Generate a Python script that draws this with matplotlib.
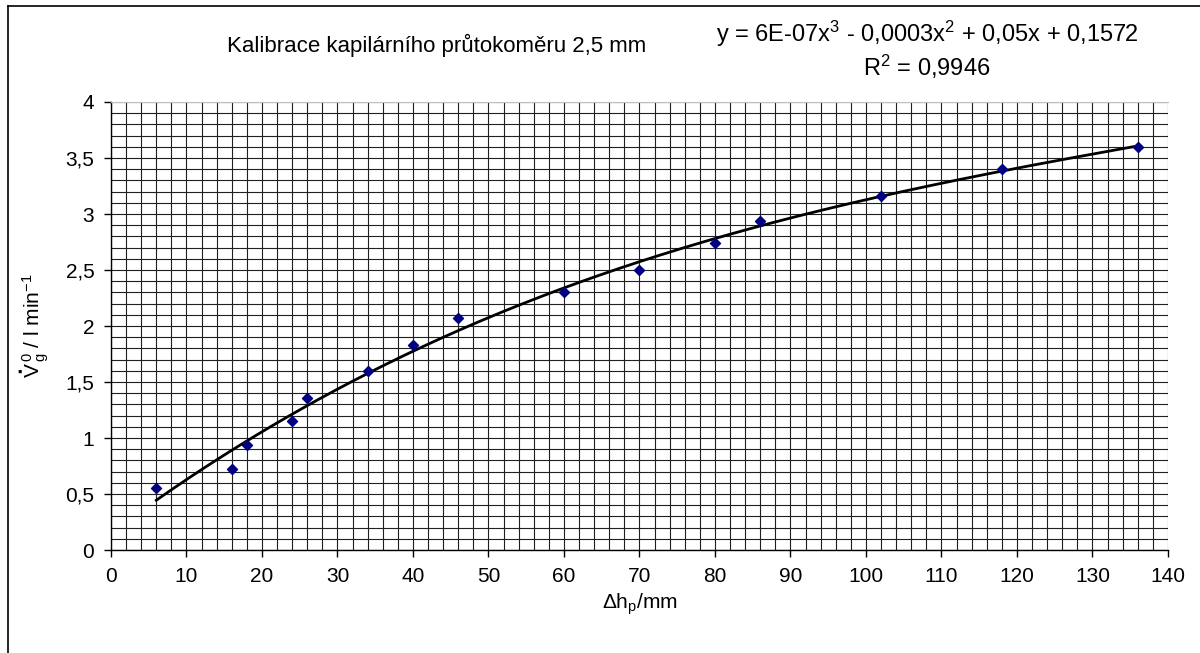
import numpy as np
import matplotlib
matplotlib.use('Agg')
import matplotlib.pyplot as plt
from matplotlib.ticker import MultipleLocator, FixedLocator, FixedFormatter
from matplotlib.lines import Line2D

plt.rcParams['font.family'] = ['Liberation Sans', 'DejaVu Sans']
plt.rcParams['mathtext.fontset'] = 'custom'
plt.rcParams['mathtext.rm'] = 'Liberation Sans'
plt.rcParams['mathtext.it'] = 'Liberation Sans'

# measured points
dh = [6, 16, 18, 24, 26, 34, 40, 46, 60, 70, 80, 86, 102, 118, 136]
flow = [0.55, 0.72, 0.94, 1.15, 1.36, 1.60, 1.83, 2.07, 2.30, 2.50, 2.74, 2.94, 3.16, 3.40, 3.60]

x_ticks = [0, 10, 20, 30, 40, 50, 60, 70, 80, 90, 100, 110, 120, 130, 140]
y_ticks = [0, 0.5, 1, 1.5, 2, 2.5, 3, 3.5, 4]
y_tick_labels = ['0', '0,5', '1', '1,5', '2', '2,5', '3', '3,5', '4']

title = 'Kalibrace kapilárního průtokoměru 2,5 mm'
eq_text = 'y = 6E-07x$^{3}$ - 0,0003x$^{2}$ + 0,05x + 0,1572'
r2_text = 'R$^{2}$ = 0,9946'

fs = 15

fig = plt.figure(figsize=(12, 6.53), dpi=100)
ax = fig.add_axes([0.0925, 0.1577, 0.8808, 0.6861])

# grid, Excel style
ax.xaxis.set_minor_locator(FixedLocator(np.arange(2, 140, 2)))
ax.yaxis.set_minor_locator(MultipleLocator(0.1))
ax.grid(which='both', color='#202020', linewidth=0.8)
ax.set_axisbelow(True)

# cubic trendline fitted to the points
coef = np.polyfit(dh, flow, 3)
xs = np.linspace(min(dh), max(dh), 300)
ax.plot(xs, np.polyval(coef, xs), color='black', linewidth=2, zorder=3)
ax.scatter(dh, flow, marker='D', s=26, color='#000080', zorder=4)

ax.set_xlim(0, 140)
ax.set_ylim(0, 4)
ax.set_xticks(x_ticks)
ax.yaxis.set_major_locator(FixedLocator(y_ticks))
ax.yaxis.set_major_formatter(FixedFormatter(y_tick_labels))
ax.tick_params(which='major', direction='out', length=5, width=1, labelsize=fs, pad=7)
ax.tick_params(which='minor', length=0)

ax.spines['right'].set_visible(False)
ax.spines['top'].set_color('#c0c0c0')
ax.spines['left'].set_linewidth(1)
ax.spines['bottom'].set_linewidth(1)

ax.set_xlabel(r'$\Delta$h$_{\rm p}$/mm', fontsize=fs, labelpad=4)
ylab = ax.set_ylabel('V$^{\\,0}_{\\,\\rm g}$ / l min$^{-1}$', fontsize=fs, labelpad=10)

fig.text(437 / 1200, 1 - 45 / 653, title, ha='center', va='center', fontsize=16)
fig.text(927 / 1200, 1 - 34 / 653, eq_text, ha='center', va='center', fontsize=17)
fig.text(927 / 1200, 1 - 67 / 653, r2_text, ha='center', va='center', fontsize=17)

# dot over V in the y label (drawn separately)
fig.canvas.draw()
bb = ylab.get_window_extent()
fig.text((bb.x0 - 1) / 1200, (bb.y0 + 5) / 653, '\u25aa', fontsize=9, ha='center', va='center')

# outer chart frame (left and top edges visible)
fig.add_artist(Line2D([8 / 1200, 8 / 1200], [0, 1 - 6 / 653], transform=fig.transFigure, color='black', linewidth=1.2))
fig.add_artist(Line2D([8 / 1200, 1], [1 - 6 / 653, 1 - 6 / 653], transform=fig.transFigure, color='black', linewidth=1.2))

fig.savefig('out.png', dpi=100)
